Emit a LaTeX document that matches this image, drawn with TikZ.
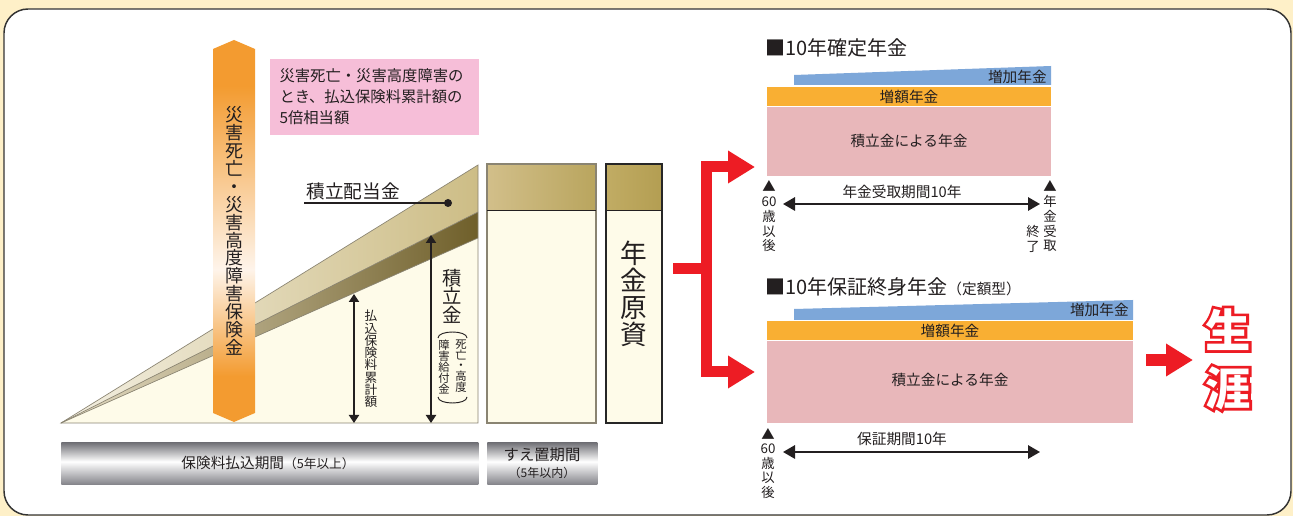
\documentclass[tikz,border=0pt]{standalone}
\usepackage{fontspec}
\setmainfont{Noto Sans CJK JP}
\newfontfamily\outlfont{Noto Sans CJK JP}[FakeBold=12]
\usetikzlibrary{arrows.meta}
\definecolor{bgcream}{HTML}{FEF0C8}
\definecolor{txtc}{HTML}{231F20}
\definecolor{orA}{HTML}{F39B30}
\definecolor{orL}{HTML}{FEF4EA}
\definecolor{pinknote}{HTML}{F6BED8}
\definecolor{wcream}{HTML}{FEFBE9}
\definecolor{tanL}{HTML}{F3EFE2}
\definecolor{tanR}{HTML}{CDBD86}
\definecolor{darkL}{HTML}{E6DEC6}
\definecolor{darkR}{HTML}{6F5F2A}
\definecolor{hdrL}{HTML}{D2BF8A}
\definecolor{hdrR}{HTML}{B9A55E}
\definecolor{hdrL3}{HTML}{C1AC64}
\definecolor{hdrR3}{HTML}{B39E52}
\definecolor{edgec}{HTML}{8A8472}
\definecolor{gD}{HTML}{6E6E74}
\definecolor{gB}{HTML}{85858B}
\definecolor{redA}{HTML}{ED1C24}
\definecolor{blueB}{HTML}{7DA7D9}
\definecolor{orB}{HTML}{F9AF33}
\definecolor{pinkB}{HTML}{E8B7BA}
\pgfdeclareverticalshading{orfade}{100bp}{color(0bp)=(orA); color(31bp)=(orA); color(45bp)=(orL); color(69bp)=(orA); color(100bp)=(orA)}
\pgfdeclareverticalshading{metal}{100bp}{color(0bp)=(gB); color(25bp)=(gB); color(52bp)=(white); color(75bp)=(gD); color(100bp)=(gD)}
\begin{document}
\begin{tikzpicture}[x=0.75pt,y=-0.75pt,
  every node/.style={inner sep=0pt, text=txtc},
  band/.style={anchor=north west, inner sep=0pt},
  vstack/.style={align=center, inner sep=0pt, text=txtc},
  dblv/.style={line width=1.5pt, draw=txtc, {Triangle[length=6pt,width=7.5pt]}-{Triangle[length=6pt,width=7.5pt]}},
  dblh/.style={line width=1.5pt, draw=txtc, {Triangle[length=9pt,width=10pt]}-{Triangle[length=9pt,width=10pt]}},
  redline/.style={draw=redA, line width=8.25pt, line join=miter},
  wedgeedge/.style={draw=edgec, line width=0.5pt},
  lifered/.style={align=center, text=redA, font=\outlfont\bfseries\fontsize{34}{43.5}\selectfont},
  lifewhite/.style={align=center, text=white, font=\bfseries\fontsize{34}{43.5}\selectfont}]
\useasboundingbox (0,0) rectangle (1293,516);
\fill[bgcream] (0,0) rectangle (1293,516);
\begin{scope}
\clip (0,0) rectangle (1293,516);
\draw[fill=white, draw=black!80, line width=1.1pt, rounded corners=18pt] (4,9) rectangle (1291,515);
\end{scope}

% ---------- wedge ----------
\coordinate (apex) at (61,423);
\coordinate (wT) at (478,165);
\coordinate (wM) at (478,212);
\coordinate (wD) at (478,238);
\coordinate (wB) at (478,423);
\fill[wcream] (apex) -- (wD) -- (wB) -- cycle;
\shade[left color=tanL, right color=tanR] (apex) -- (wT) -- (wM) -- cycle;
\shade[left color=darkL, right color=darkR] (apex) -- (wM) -- (wD) -- cycle;
\draw[wedgeedge] (apex) -- (wT) -- (wB) -- cycle;
\draw[wedgeedge] (apex) -- (wM);
\draw[wedgeedge] (apex) -- (wD);

% label tsumitate haitoukin
\node (haito) at (353,191) {\fontsize{14}{16}\selectfont 積立配当金};
\coordinate (ulstart) at (304,203);
\coordinate (hdot) at (448,203);
\draw[line width=0.8pt, txtc] (ulstart) -- (hdot);
\fill[txtc] (hdot) circle (4);

% arrows in wedge
\coordinate (a1t) at (354,294);
\coordinate (a1b) at (354,423);
\draw[dblv] (a1t) -- (a1b);
\node[vstack, font=\fontsize{9.5}{9.2}\selectfont] (harai) at (371,359) {払\\込\\保\\険\\料\\累\\計\\額};
\coordinate (a2t) at (431,235);
\coordinate (a2b) at (431,423);
\draw[dblv] (a2t) -- (a2b);
\node[vstack, font=\fontsize{14.5}{13.8}\selectfont] (tsumi) at (452,296) {積\\立\\金};
\draw[line width=0.7pt, txtc] (438,338) .. controls (438,330) and (467,330) .. (467,338);
\draw[line width=0.7pt, txtc] (438,397) .. controls (438,405) and (467,405) .. (467,397);
\node[vstack, font=\fontsize{8.5}{8.1}\selectfont] (shibou) at (461,366) {死\\亡\\・\\高\\度};
\node[vstack, font=\fontsize{8.5}{8.1}\selectfont] (shogai) at (444,367) {障\\害\\給\\付\\金};

% orange arrow
\shade[shading=orfade] (213,49) -- (234,40) -- (255,49) -- (255,413) -- (234,422) -- (213,413) -- cycle;
\node[vstack, font=\fontsize{13.5}{13.4}\selectfont] (saigai) at (234,231) {災\\害\\死\\亡\\・\\災\\害\\高\\度\\障\\害\\保\\険\\金};

% pink note
\node[fill=pinknote, minimum width={209*0.75pt}, minimum height={76*0.75pt}, text width={190*0.75pt}, align=left, font=\fontsize{11.5}{15.75}\selectfont] (note) at (374.5,97) {災害死亡・災害高度障害の\\とき、払込保険料累計額の\\5倍相当額};

% column 2
\shade[left color=hdrL, right color=hdrR] (487,164) rectangle (596,210);
\fill[wcream] (487,210) rectangle (596,423);
\draw[draw=edgec, line width=0.8pt] (487,164) rectangle (596,423);
\draw[txtc, line width=0.6pt] (487,210) -- (596,210);

% column 3
\shade[left color=hdrL3, right color=hdrR3] (606,164) rectangle (662,210);
\fill[wcream] (606,210) rectangle (662,423);
\draw[txtc, line width=0.6pt] (606,210) -- (662,210);
\draw[draw=black!85, line width=1.6pt] (606,164) rectangle (662,423);
\node[vstack, font=\fontsize{20}{20.3}\selectfont] (genshi) at (634,294) {年\\金\\原\\資};

% bottom bars
\node[band, shading=metal, minimum width={417*0.75pt}, minimum height={42*0.75pt}] (bar1) at (61,442) {};
\node (bar1t) at (268,463) {\fontsize{11}{12}\selectfont 保険料払込期間\fontsize{9.5}{10}\selectfont（5年以上）};
\node[band, shading=metal, minimum width={110*0.75pt}, minimum height={42*0.75pt}] (bar2) at (487,442) {};
\node[vstack, font=\fontsize{11.5}{12.75}\selectfont] (bar2t) at (542,463) {すえ置期間\\{\fontsize{9}{10}\selectfont（5年以内）}};

% red connector
\coordinate (rs) at (673,269);
\coordinate (rj) at (706,269);
\coordinate (rtc) at (706,167);
\coordinate (rbc) at (706,372);
\coordinate (rtt) at (755,167);
\coordinate (rbt) at (755,372);
\draw[redline, {Triangle[length=20.25pt,width=23.25pt]}-{Triangle[length=20.25pt,width=23.25pt]}] (rtt) -- (rtc) -- (rbc) -- (rbt);
\draw[redline] (rs) -- (rj);

% ---------- upper chart ----------
\node[anchor=west, font=\fontsize{15}{18}\selectfont] (t1) at (765,48) {■10年確定年金};
\fill[blueB] (794,75) -- (1051,66) -- (1051,85) -- (794,85) -- cycle;
\node[anchor=east, font=\fontsize{11}{13}\selectfont] (zk1) at (1047,77) {増加年金};
\node[band, fill=orB, minimum width={284*0.75pt}, minimum height={19*0.75pt}] (zg1) at (767,87) {};
\node[font=\fontsize{11}{13}\selectfont] (zg1t) at (909,96.5) {増額年金};
\node[band, fill=pinkB, minimum width={284*0.75pt}, minimum height={69*0.75pt}] (tk1) at (767,107) {};
\node[font=\fontsize{11}{13}\selectfont] (tk1t) at (909,141) {積立金による年金};
\node[vstack, font=\fontsize{10}{11.06}\selectfont] (age1) at (769,216.5) {▲\\60\\歳\\以\\後};
\coordinate (h1l) at (783,204);
\coordinate (h1r) at (1040,204);
\draw[dblh] (h1l) -- (h1r);
\node[font=\fontsize{11}{13}\selectfont] (p1) at (902,192) {年金受取期間10年};
\node[vstack, font=\fontsize{10}{11.06}\selectfont] (end1) at (1050,216.5) {▲\\年\\金\\受\\取};
\node[vstack, font=\fontsize{10}{11.06}\selectfont] (end2) at (1033,239) {終\\了};

% ---------- lower chart ----------
\node[anchor=west, font=\fontsize{15}{18}\selectfont] (t2) at (765,287) {■10年保証終身年金{\fontsize{11}{13}\selectfont（定額型）}};
\fill[blueB] (794,309) -- (1133,300) -- (1133,320) -- (794,320) -- cycle;
\node[anchor=east, font=\fontsize{11}{13}\selectfont] (zk2) at (1129,310) {増加年金};
\node[band, fill=orB, minimum width={366*0.75pt}, minimum height={19*0.75pt}] (zg2) at (767,321) {};
\node[font=\fontsize{11}{13}\selectfont] (zg2t) at (950,330.5) {増額年金};
\node[band, fill=pinkB, minimum width={366*0.75pt}, minimum height={82*0.75pt}] (tk2) at (767,341) {};
\node[font=\fontsize{11}{13}\selectfont] (tk2t) at (950,380) {積立金による年金};
\node[vstack, font=\fontsize{10}{10.9}\selectfont] (age2) at (768,463.5) {▲\\60\\歳\\以\\後};
\coordinate (h2l) at (783,452);
\coordinate (h2r) at (1040,452);
\draw[dblh] (h2l) -- (h2r);
\node[font=\fontsize{11}{13}\selectfont] (p2) at (902,439) {保証期間10年};

% arrow to lifetime
\coordinate (la) at (1146,360);
\coordinate (lb) at (1193,360);
\draw[draw=redA, line width=9pt, -{Triangle[length=20.25pt,width=23.25pt]}] (la) -- (lb);
\node[lifered] (lifeo) at (1228,359) {生\\涯};
\node[lifewhite] (life) at (1228,359) {生\\涯};
\end{tikzpicture}
\end{document}
